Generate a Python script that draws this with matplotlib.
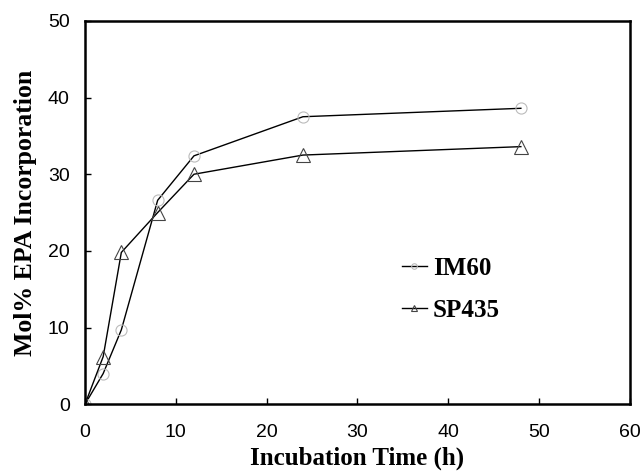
import matplotlib
matplotlib.use("Agg")
import matplotlib.pyplot as plt

time_h = [0, 2, 4, 8, 12, 24, 48]
im60 = [0, 4.0, 9.7, 26.6, 32.4, 37.5, 38.6]
sp435 = [0, 6.2, 19.8, 25.0, 30.0, 32.5, 33.6]

fig = plt.figure(figsize=(6.44, 4.75), dpi=100)
ax = fig.add_axes([0.132, 0.149, 0.846, 0.807])

ax.plot(time_h, im60, color='black', lw=1.0, marker='o', ms=8, mfc='none',
        mec='#bbbbbb', mew=0.8, label='IM60')
ax.plot(time_h, sp435, color='black', lw=1.0, marker='^', ms=10, mfc='none',
        mec='#444444', mew=0.8, label='SP435')

ax.set_xlim(0, 60)
ax.set_ylim(0, 50)
ax.set_xticks(range(0, 61, 10))
ax.set_yticks(range(0, 51, 10))
ax.tick_params(direction='in', length=4, labelsize=14, width=1)
ax.tick_params(axis='x', pad=14)
ax.tick_params(axis='y', pad=11)
for lbl in ax.get_xticklabels() + ax.get_yticklabels():
    lbl.set_family('Liberation Sans')
for s in ax.spines.values():
    s.set_linewidth(1.8)

ax.set_xlabel('Incubation Time (h)', family='Liberation Serif', fontweight='bold',
              fontsize=18, labelpad=4)
ax.set_ylabel('Mol% EPA Incorporation', family='Liberation Serif', fontweight='bold',
              fontsize=18.5, labelpad=8)

leg = ax.legend(loc='center left', bbox_to_anchor=(0.54, 0.30), frameon=False,
                prop={'family': 'Liberation Serif', 'weight': 'bold', 'size': 18},
                handlelength=1.0, handletextpad=0.25, labelspacing=0.75, markerscale=0.5)

fig.savefig('out.png', dpi=100)
